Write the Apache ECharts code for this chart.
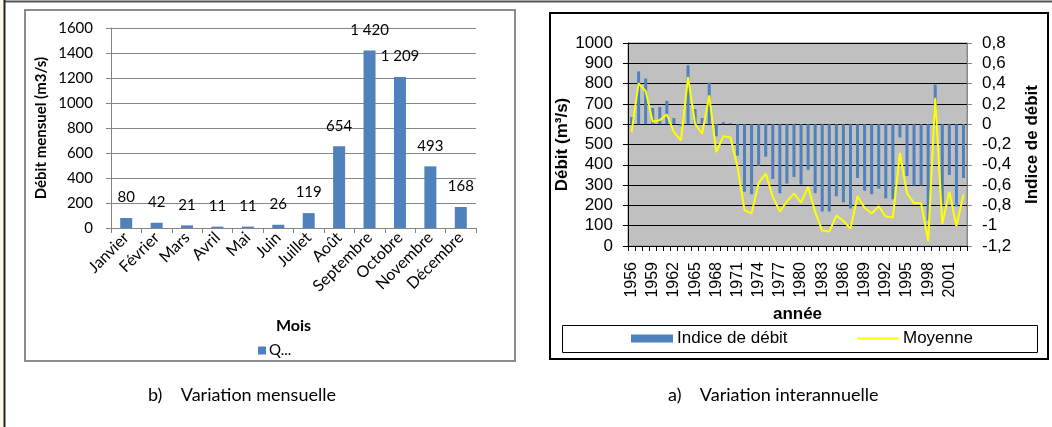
<!DOCTYPE html>
<html>
<head>
<meta charset="utf-8">
<script src="https://cdn.jsdelivr.net/npm/echarts@6/dist/echarts.min.js"></script>
<style>
html,body{margin:0;padding:0;background:#fff;}
#chart{width:1052px;height:427px;}
</style>
</head>
<body>
<div id="chart"></div>
<script>
// ---- Monthly chart (b) ----
var months = ['Janvier','Février','Mars','Avril','Mai','Juin','Juillet','Août','Septembre','Octobre','Novembre','Décembre'];
var monthlyFlow = [80, 42, 21, 11, 11, 26, 119, 654, 1420, 1209, 493, 168];
var monthlyTicks = {min: 0, max: 1600, interval: 200};

// ---- Interannual chart (a) ----
var years = ['1956','1957','1958','1959','1960','1961','1962','1963','1964','1965','1966','1967','1968','1969','1970','1971','1972','1973','1974','1975','1976','1977','1978','1979','1980','1981','1982','1983','1984','1985','1986','1987','1988','1989','1990','1991','1992','1993','1994','1995','1996','1997','1998','1999','2000','2001','2002','2003'];
var indiceDebit = [0.07,0.52,0.45,0.16,0.17,0.23,0.06,-0.02,0.58,0.15,0.06,0.41,-0.12,0.02,0.01,-0.31,
  -0.665,-0.69,-0.41,-0.32,-0.54,-0.68,-0.585,-0.52,-0.595,-0.45,-0.68,-0.86,-0.86,-0.71,-0.77,-0.83,-0.53,
  -0.655,-0.69,-0.635,-0.73,-0.74,-0.13,-0.51,-0.605,-0.605,-0.95,0.39,-0.79,-0.50,-0.81,-0.53];
var moyenne = [561,801,763,612,620,648,561,520,832,602,553,742,462,541,535,390,
  176,161,311,357,242,169,220,258,214,291,168,76,71,150,123,86,245,
  188,160,196,145,140,457,260,211,211,26,730,109,268,97,253];
var debitTicks = {min: 0, max: 1000, interval: 100};
var indiceTicks = {min: -1.2, max: 0.8, interval: 0.2};

var LEFT_FONT = 'Lato, "Open Sans", sans-serif';
var RIGHT_FONT = '"Liberation Sans", Arial, sans-serif';

function thousands(v){ return String(v).replace(/\B(?=(\d{3})+(?!\d))/g, ' '); }
function plain(v){ return String(v); }
function commaDec(v){ var r = Math.round(v*10)/10; return String(r).replace('.', ','); }

var chart = echarts.init(document.getElementById('chart'), null, {renderer: 'canvas'});

var option = {
  backgroundColor: '#ffffff',
  animation: false,
  graphic: [
    {type:'rect', shape:{x:0,y:0,width:4,height:427}, style:{fill:'#fbf8e6'}, silent:true},
    {type:'line', shape:{x1:4,y1:1.5,x2:1052,y2:1.5}, style:{stroke:'#555',lineWidth:2}, silent:true},
    {type:'line', shape:{x1:4.5,y1:0,x2:4.5,y2:427}, style:{stroke:'#222',lineWidth:2}, silent:true},
    {type:'rect', shape:{x:25,y:10,width:490,height:351}, style:{fill:'none',stroke:'#8c8c8c',lineWidth:2}, silent:true},
    {type:'rect', shape:{x:550,y:13,width:498,height:346}, style:{fill:'none',stroke:'#000',lineWidth:2}, silent:true},
    {type:'rect', shape:{x:562.5,y:325.5,width:475,height:27}, style:{fill:'none',stroke:'#000',lineWidth:1}, silent:true},
    {type:'text', left:148, top:386, style:{text:'b)    Variation mensuelle', font:'18px ' + LEFT_FONT, fill:'#000'}},
    {type:'text', left:668, top:386, style:{text:'a)    Variation interannuelle', font:'18px ' + LEFT_FONT, fill:'#000'}}
  ],
  legend: [
    {
      data: ['Q...'], left: 258, top: 343, padding: 0, icon: 'rect', itemWidth: 8, itemHeight: 8, itemGap: 4,
      textStyle: {fontFamily: LEFT_FONT, fontSize: 15, color: '#000', padding:[0,0,0,-2]}
    },
    {
      data: ['Indice de débit'], left: 631, top: 330, padding: 0, icon: 'rect', itemWidth: 42, itemHeight: 8,
      textStyle: {fontFamily: RIGHT_FONT, fontSize: 17, color: '#000', padding:[0,0,0,-1]}
    },
    {
      data: ['Moyenne'], left: 857, top: 330, padding: 0, icon: 'rect', itemWidth: 42, itemHeight: 2,
      textStyle: {fontFamily: RIGHT_FONT, fontSize: 17, color: '#000', padding:[0,0,0,-1]}
    }
  ],
  grid: [
    {left: 111, top: 28, width: 365, height: 200, containLabel: false},
    {left: 628, top: 43, width: 339, height: 203, containLabel: false, show: true,
     backgroundColor: '#c0c0c0', borderColor: '#8a8a8a', borderWidth: 1}
  ],
  xAxis: [
    {
      gridIndex: 0, type: 'category', data: months,
      name: 'Mois', nameLocation: 'middle', nameGap: 90,
      nameTextStyle: {fontFamily: LEFT_FONT, fontSize: 16, fontWeight: 'bold', color: '#000'},
      axisLine: {lineStyle: {color: '#868686'}},
      axisTick: {show: true, length: 5, lineStyle: {color: '#868686'}},
      axisLabel: {rotate: 45, interval: 0, margin: 7, fontFamily: LEFT_FONT, fontSize: 16, color: '#000'}
    },
    {
      gridIndex: 1, type: 'category', data: years,
      name: 'année', nameLocation: 'middle', nameGap: 60,
      nameTextStyle: {fontFamily: RIGHT_FONT, fontSize: 17, fontWeight: 'bold', color: '#000'},
      axisLine: {lineStyle: {color: '#000'}},
      axisTick: {show: true, interval: 0, length: 5, lineStyle: {color: '#000'}},
      axisLabel: {rotate: 90, interval: 2, margin: 16, fontFamily: RIGHT_FONT, fontSize: 16, color: '#000'}
    }
  ],
  yAxis: [
    {
      gridIndex: 0, type: 'value', min: monthlyTicks.min, max: monthlyTicks.max, interval: monthlyTicks.interval,
      name: 'Débit mensuel (m3/s)', nameLocation: 'middle', nameGap: 62, nameRotate: 90,
      nameTextStyle: {fontFamily: LEFT_FONT, fontSize: 15, fontWeight: 'bold', color: '#000'},
      axisLine: {show: true, lineStyle: {color: '#868686'}},
      axisTick: {show: true, length: 5, lineStyle: {color: '#868686'}},
      axisLabel: {margin: 18, fontFamily: LEFT_FONT, fontSize: 15, color: '#000', formatter: plain},
      splitLine: {show: true, lineStyle: {color: '#878787', width: 1}}
    },
    {
      gridIndex: 1, type: 'value', position: 'left', min: debitTicks.min, max: debitTicks.max, interval: debitTicks.interval,
      name: 'Débit (m³/s)', nameLocation: 'middle', nameGap: 40, nameRotate: 90,
      nameTextStyle: {fontFamily: RIGHT_FONT, fontSize: 17, fontWeight: 'bold', color: '#000'},
      axisLine: {show: true, lineStyle: {color: '#000'}},
      axisTick: {show: true, length: 5, lineStyle: {color: '#000'}},
      axisLabel: {margin: 15, fontFamily: RIGHT_FONT, fontSize: 17, color: '#000', formatter: plain},
      splitLine: {show: true, lineStyle: {color: '#000', width: 1}}
    },
    {
      gridIndex: 1, type: 'value', position: 'right', min: indiceTicks.min, max: indiceTicks.max, interval: indiceTicks.interval,
      name: 'Indice de débit', nameLocation: 'middle', nameGap: 57, nameRotate: 90,
      nameTextStyle: {fontFamily: RIGHT_FONT, fontSize: 17, fontWeight: 'bold', color: '#000'},
      axisLine: {show: true, lineStyle: {color: '#888'}},
      axisTick: {show: true, length: 5, lineStyle: {color: '#888'}},
      axisLabel: {margin: 15, fontFamily: RIGHT_FONT, fontSize: 17, color: '#000', formatter: commaDec},
      splitLine: {show: false}
    }
  ],
  series: [
    {
      name: 'Q...', type: 'bar', xAxisIndex: 0, yAxisIndex: 0, data: monthlyFlow,
      barWidth: 12, itemStyle: {color: '#4f81bd'},
      label: {show: true, position: 'top', distance: 13, fontFamily: LEFT_FONT, fontSize: 15, color: '#000',
              formatter: function(p){ return thousands(p.value); }}
    },
    {
      name: 'Indice de débit', type: 'bar', xAxisIndex: 1, yAxisIndex: 2, data: indiceDebit,
      barWidth: 3, itemStyle: {color: '#4f81bd'}, z: 2
    },
    {
      name: 'Moyenne', type: 'line', xAxisIndex: 1, yAxisIndex: 1, data: moyenne,
      showSymbol: false, symbol: 'none', lineStyle: {color: '#ffff00', width: 2}, itemStyle: {color: '#ffff00'}, z: 3
    }
  ]
};
chart.setOption(option);
</script>
</body>
</html>
